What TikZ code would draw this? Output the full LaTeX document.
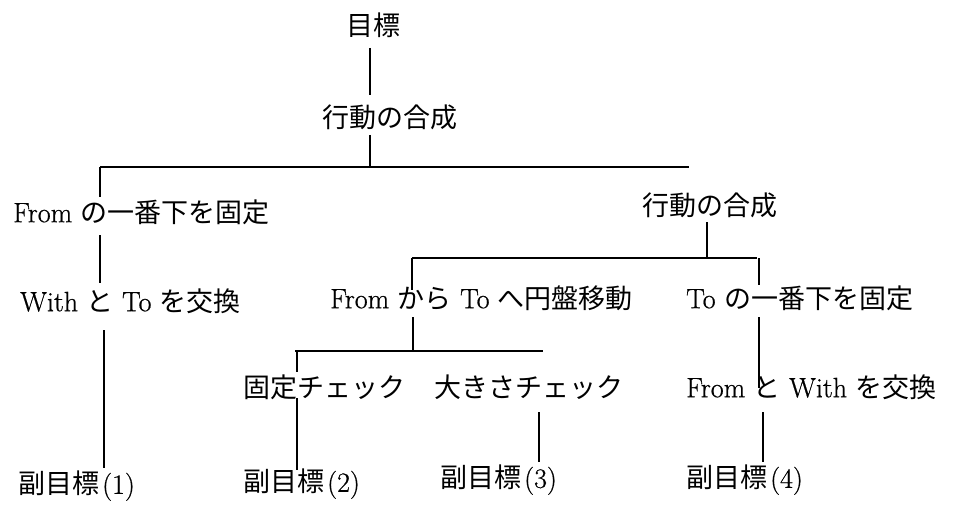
\documentclass[tikz,border=0pt]{standalone}
\usepackage{fontspec}
\setmainfont{Latin Modern Roman}[FakeBold=0.6]
\newfontfamily\cjk{Noto Sans CJK JP}
\newcommand{\latfont}{\fontsize{28}{32}\selectfont}
\newcommand{\jp}[1]{{\cjk\fontsize{27}{31}\selectfont #1}}
\tikzset{
  lbl/.style={inner sep=0pt, anchor=west, font=\latfont},
  lblc/.style={inner sep=0pt, anchor=center, font=\latfont},
  conn/.style={line width=1.6pt, line cap=butt}
}
\begin{document}
\begin{tikzpicture}[x=1pt,y=-1pt]
\useasboundingbox (0,0) rectangle (968,505);
% nodes
\node[lblc] (goal) at (373,25) {\jp{目標}};
\node[lblc] (comp1) at (390,117) {\jp{行動の合成}};
\node[lbl] (fix1) at (13,212) {From \jp{の一番下を固定}};
\node[lblc] (comp2) at (710,205) {\jp{行動の合成}};
\node[lbl] (swap1) at (20,301) {With \jp{と} To \jp{を交換}};
\node[lbl] (move) at (330,298) {From \jp{から} To \jp{へ円盤移動}};
\node[lbl] (fix2) at (686,298) {To \jp{の一番下を固定}};
\node[lbl] (chk1) at (243,387) {\jp{固定チェック}};
\node[lbl] (chk2) at (434,387) {\jp{大きさチェック}};
\node[lbl] (swap2) at (686,387) {From \jp{と} With \jp{を交換}};
\node[lbl] (sub1) at (18,486) {\jp{副目標}\hspace{3pt}(1)};
\node[lbl] (sub2) at (243,484) {\jp{副目標}\hspace{3pt}(2)};
\node[lbl] (sub3) at (440,480) {\jp{副目標}\hspace{3pt}(3)};
\node[lbl] (sub4) at (686,480) {\jp{副目標}\hspace{3pt}(4)};
% connector end points
\coordinate (a1) at (370,48);  \coordinate (a2) at (370,95);
\coordinate (b1) at (370,135); \coordinate (b2) at (370,167);
\coordinate (h1l) at (100,167); \coordinate (h1r) at (689,167);
\coordinate (c1) at (100,197);
\coordinate (d1) at (100,235); \coordinate (d2) at (100,283);
\coordinate (e1) at (104,330); \coordinate (e2) at (104,468);
\coordinate (f1) at (707,222); \coordinate (f2) at (707,258);
\coordinate (h2l) at (412,258); \coordinate (h2r) at (757,258);
\coordinate (g1) at (412,290);
\coordinate (g2) at (759,285);
\coordinate (k1) at (413,317); \coordinate (k2) at (413,351);
\coordinate (h3l) at (295,351); \coordinate (h3r) at (543,351);
\coordinate (m1) at (297,372);
\coordinate (n1) at (297,398); \coordinate (n2) at (297,470);
\coordinate (p1) at (539,412); \coordinate (p2) at (539,462);
\coordinate (q1) at (759,317); \coordinate (q2) at (759,388);
\coordinate (r1) at (763,412); \coordinate (r2) at (763,462);
% connectors
\draw[conn] (a1) -- (a2);
\draw[conn] (b1) -- (b2);
\draw[conn] (h1l) -- (h1r);
\draw[conn] (h1l) -- (c1);
\draw[conn] (d1) -- (d2);
\draw[conn] (e1) -- (e2);
\draw[conn] (f1) -- (f2);
\draw[conn] (h2l) -- (h2r);
\draw[conn] (h2l) -- (g1);
\draw[conn] (h2r -| g2) -- (g2);
\draw[conn] (k1) -- (k2);
\draw[conn] (h3l) -- (h3r);
\draw[conn] (h3l -| m1) -- (m1);
\draw[conn] (n1) -- (n2);
\draw[conn] (p1) -- (p2);
\draw[conn] (q1) -- (q2);
\draw[conn] (r1) -- (r2);
\end{tikzpicture}
\end{document}
